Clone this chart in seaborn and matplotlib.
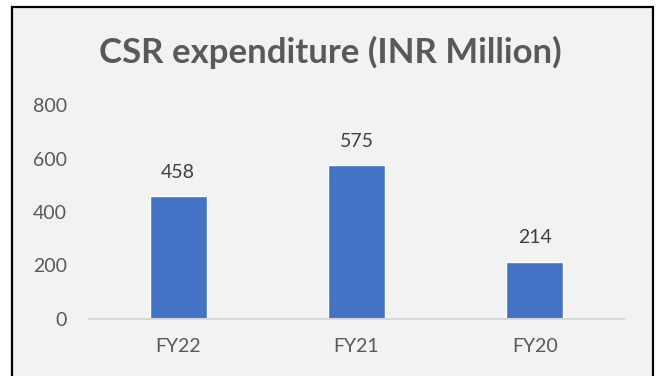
import matplotlib
matplotlib.use("Agg")
import matplotlib.pyplot as plt
from matplotlib.patches import Rectangle
import seaborn as sns
import pandas as pd

years = ["FY22", "FY21", "FY20"]
spend = [458, 575, 214]
y_ticks = [0, 200, 400, 600, 800]

sns.set_theme(style="white")
plt.rcParams["font.family"] = ["Lato", "DejaVu Sans"]

df = pd.DataFrame({"year": years, "spend": spend})

fig = plt.figure(figsize=(6.6, 3.76), dpi=100)
fig.patch.set_facecolor("white")

# chart card with black frame
card = Rectangle((12 / 660, -0.05), 641 / 660, 1 - 7 / 376 + 0.05,
                 transform=fig.transFigure, facecolor="#F2F2F2",
                 edgecolor="black", linewidth=1.6, zorder=-10)
fig.patches.append(card)

ax = fig.add_axes([89 / 660, 1 - 319 / 376, 535 / 660, (319 - 105) / 376])
ax.set_facecolor("none")
ax.set_zorder(1)

sns.barplot(data=df, x="year", y="spend", color="#4472C4", width=0.32,
            saturation=1, ax=ax, zorder=3)

ax.set_ylim(0, 800)
ax.set_yticks(y_ticks)
ax.set_yticklabels([str(t) for t in y_ticks])
ax.set_xlim(-0.5, 2.5)
ax.set_xlabel("")
ax.set_ylabel("")

for s in ["top", "right", "left"]:
    ax.spines[s].set_visible(False)
ax.spines["bottom"].set_color("#D9D9D9")
ax.spines["bottom"].set_linewidth(1.5)
ax.spines["bottom"].set_zorder(4)

ax.tick_params(axis="y", length=0, pad=16, labelsize=14, labelcolor="#595959")
ax.tick_params(axis="x", length=0, pad=14, labelsize=14, labelcolor="#595959")

for i, v in enumerate(spend):
    ax.annotate(str(v), (i, v), xytext=(0, 11), textcoords="offset points",
                ha="center", va="bottom", fontsize=14, color="#404040")

fig.text(0.5, 1 - 52 / 376, "CSR expenditure (INR Million)", ha="center",
         va="center", fontsize=25, fontweight="bold", color="#595959")

fig.savefig("out.png", dpi=100, facecolor=fig.get_facecolor())
